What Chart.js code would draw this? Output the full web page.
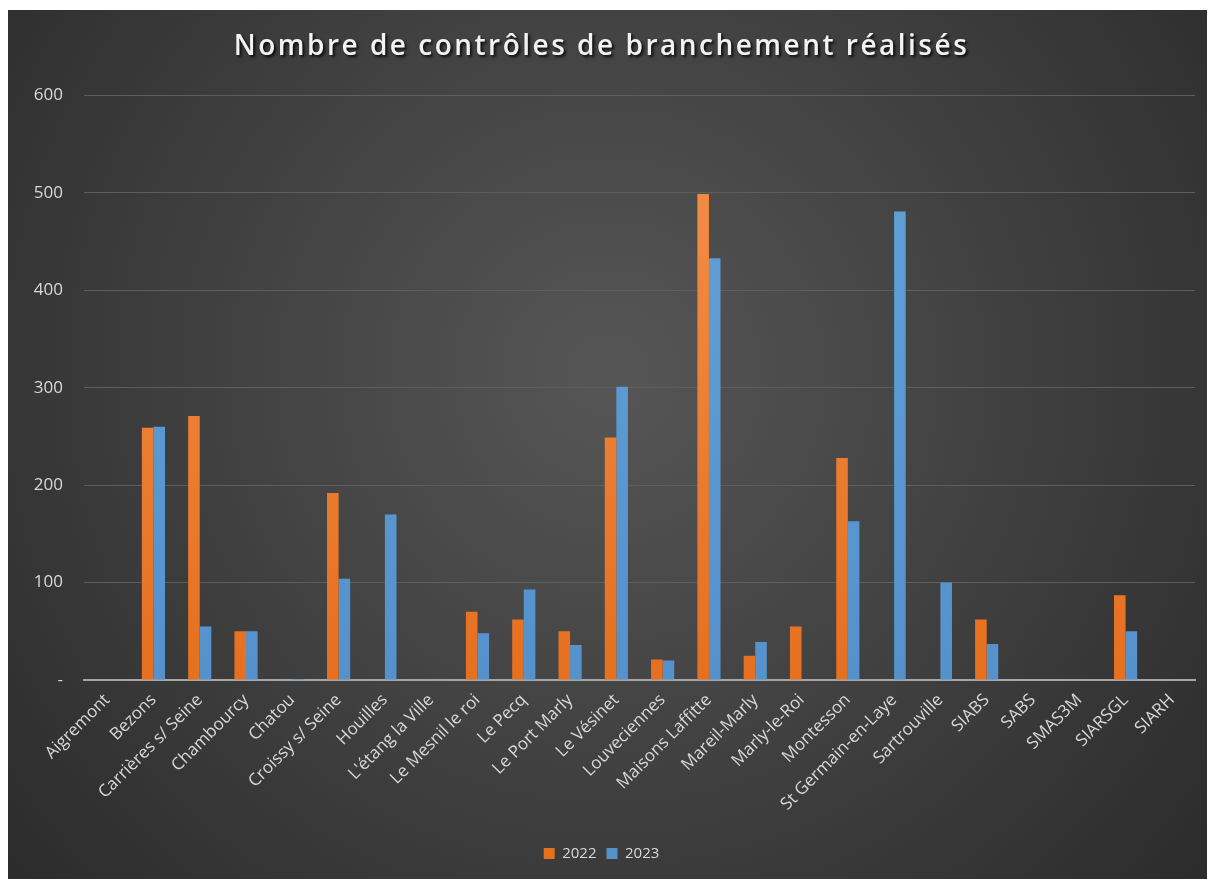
<!DOCTYPE html>
<html>
<head>
<meta charset="utf-8">
<script src="https://cdn.jsdelivr.net/npm/chart.js@4/dist/chart.umd.min.js"></script>
<style>
    html, body { margin: 0; padding: 0; background: #ffffff; }
    #wrap { position: absolute; left: 8px; top: 10px; width: 1199px; height: 869px; }
</style>
</head>
<body>
<div id="wrap"><canvas id="controlesChart"></canvas></div>
<script>
const communes = [
    'Aigremont', 'Bezons', 'Carrières s/ Seine', 'Chambourcy', 'Chatou', 'Croissy s/ Seine',
    'Houilles', "L'étang la Ville", 'Le Mesnil le roi', 'Le Pecq', 'Le Port Marly', 'Le Vésinet',
    'Louveciennes', 'Maisons Laffitte', 'Mareil-Marly', 'Marly-le-Roi', 'Montesson',
    'St Germain-en-Laye', 'Sartrouville', 'SIABS', 'SABS', 'SMAS3M', 'SIARSGL', 'SIARH'
];
const controles2022 = [0, 259, 271, 50, 0, 192, 0, 0, 70, 62, 50, 249, 21, 499, 25, 55, 228, 0, 0, 62, 0, 0, 87, 0];
const controles2023 = [0, 260, 55, 50, 1, 104, 170, 0, 48, 93, 36, 301, 20, 433, 39, 0, 163, 481, 100, 37, 0, 0, 50, 0];
const yTicks = [0, 100, 200, 300, 400, 500, 600];

const labelColor = '#d9d9d9';

// fond sombre en dégradé radial, comme le style Excel
const background = {
    id: 'background',
    beforeDraw(chart) {
        const { ctx, width, height } = chart;
        const g = ctx.createRadialGradient(width * 0.5, height * 0.42, 20, width * 0.5, height * 0.42, width * 0.75);
        g.addColorStop(0, '#555555');
        g.addColorStop(1, '#252525');
        ctx.save();
        ctx.fillStyle = g;
        ctx.fillRect(0, 0, width, height);
        ctx.restore();
    }
};

// ombre portée + espacement des lettres pour le titre
const titleShadow = {
    id: 'titleShadow',
    afterInit(chart) {
        const block = chart.titleBlock;
        if (!block) return;
        const draw = block.draw.bind(block);
        block.draw = function () {
            const ctx = chart.ctx;
            ctx.save();
            ctx.letterSpacing = '2.5px';
            ctx.shadowColor = 'rgba(0,0,0,0.85)';
            ctx.shadowOffsetX = 2;
            ctx.shadowOffsetY = 2;
            ctx.shadowBlur = 3;
            draw();
            ctx.restore();
        };
    }
};

function barGradient(context, top, bottom) {
    const area = context.chart.chartArea;
    if (!area) return bottom;
    const g = context.chart.ctx.createLinearGradient(0, area.top, 0, area.bottom);
    g.addColorStop(0, top);
    g.addColorStop(1, bottom);
    return g;
}

const ctx = document.getElementById('controlesChart');

new Chart(ctx, {
    type: 'bar',
    data: {
        labels: communes,
        datasets: [
            {
                label: '2022',
                data: controles2022,
                backgroundColor: (c) => barGradient(c, '#f4914c', '#e5701f'),
                borderWidth: 0
            },
            {
                label: '2023',
                data: controles2023,
                backgroundColor: (c) => barGradient(c, '#62a1d8', '#5592cc'),
                borderWidth: 0
            }
        ]
    },
    options: {
        responsive: true,
        maintainAspectRatio: false,
        animation: false,
        categoryPercentage: 0.5,
        barPercentage: 1.0,
        layout: {
            padding: { top: 0, right: 12, bottom: 8, left: 0 }
        },
        scales: {
            x: {
                grid: { display: false, drawTicks: false },
                border: { display: true, color: '#a6a6a6', width: 2 },
                ticks: {
                    autoSkip: false,
                    minRotation: 45,
                    maxRotation: 45,
                    padding: 10,
                    color: labelColor,
                    font: { family: "'Open Sans', sans-serif", size: 17 }
                },
                afterFit(scale) {
                    scale.height = 156;
                }
            },
            y: {
                min: 0,
                max: 600,
                afterBuildTicks(scale) {
                    scale.ticks = yTicks.map(v => ({ value: v }));
                },
                grid: {
                    drawTicks: false,
                    color: (c) => c.tick && c.tick.value === 0 ? 'rgba(0,0,0,0)' : '#5e5e5e',
                    lineWidth: 1
                },
                border: { display: false },
                ticks: {
                    padding: 21,
                    color: labelColor,
                    font: { family: "'Open Sans', sans-serif", size: 17 },
                    callback: (v) => v === 0 ? '-' : v
                },
                afterFit(scale) {
                    scale.width = 76;
                }
            }
        },
        plugins: {
            title: {
                display: true,
                text: 'Nombre de contrôles de branchement réalisés',
                color: '#f2f2f2',
                font: { family: "'Open Sans', sans-serif", size: 28, weight: '600' },
                padding: { top: 20, bottom: 32 }
            },
            legend: {
                position: 'bottom',
                labels: {
                    color: labelColor,
                    boxWidth: 11,
                    boxHeight: 11,
                    padding: 10,
                    font: { family: "'Open Sans', sans-serif", size: 15 }
                }
            },
            tooltip: { enabled: false }
        }
    },
    plugins: [background, titleShadow]
});
</script>
</body>
</html>
